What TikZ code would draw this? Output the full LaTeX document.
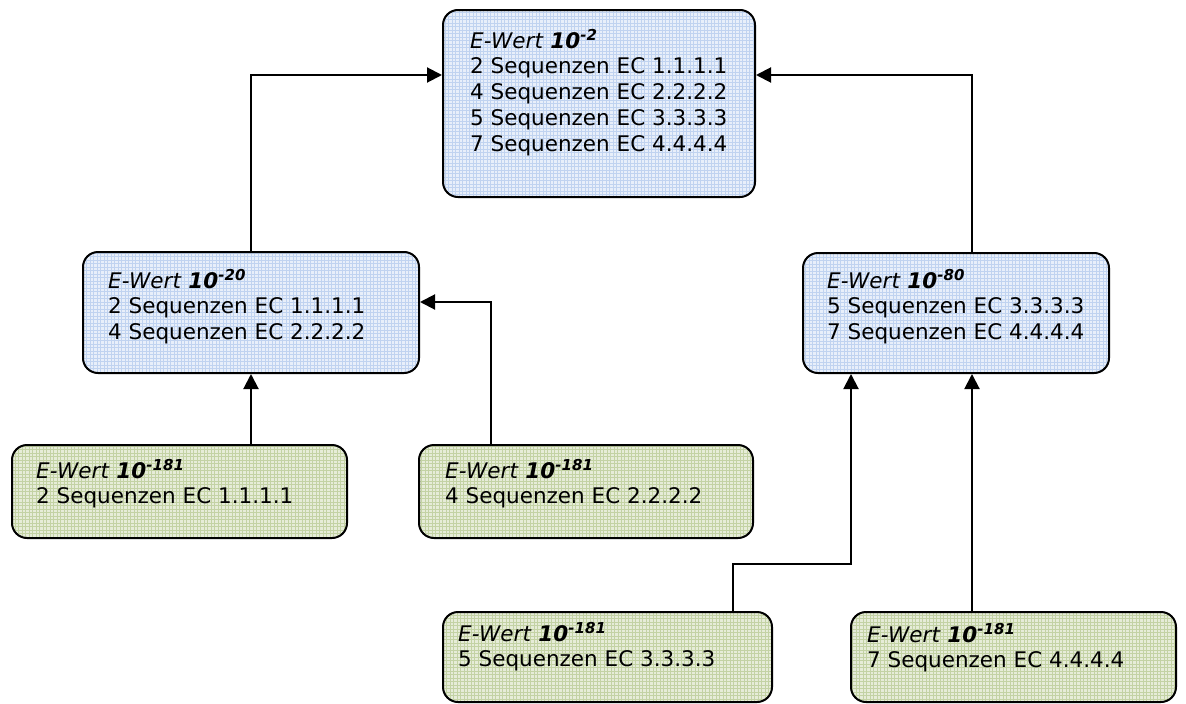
\documentclass[tikz,border=0pt]{standalone}
\usepackage{fontspec}
\setmainfont{DejaVu Sans}
\usetikzlibrary{arrows.meta}
\definecolor{bluebase}{HTML}{E8EFFA}
\definecolor{blueline}{HTML}{C0D3F0}
\definecolor{greenbase}{HTML}{E6ECD8}
\definecolor{greenline}{HTML}{C3D2A4}
\newcommand\ewert[1]{\textit{E-Wert} \textbf{\textit{10}}\textsuperscript{\textbf{\textit{-#1}}}}
\begin{document}
\begin{tikzpicture}[x=1pt,y=-1pt,
  boxbase/.style={draw=black, line width=2pt, rounded corners=15pt, inner sep=0pt},
  bluebox/.style={boxbase, fill=bluebase,
    path picture={\draw[blueline, line width=0.8pt, step=3.5pt] (path picture bounding box.south west) grid (path picture bounding box.north east);}},
  greenbox/.style={boxbase, fill=greenbase,
    path picture={\draw[greenline, line width=0.8pt, step=3.5pt] (path picture bounding box.south west) grid (path picture bounding box.north east);}},
  txt/.style={anchor=base west, inner sep=0pt, font=\fontsize{21.5}{25.8}\selectfont},
  arr/.style={draw=black, line width=2pt, -{Triangle[length=15pt,width=15pt]}}
]
\useasboundingbox (0,0) rectangle (1186,704);
% boxes
\node[bluebox, minimum width=312pt, minimum height=187pt] (top) at (599,103.5) {};
\node[bluebox, minimum width=336pt, minimum height=121pt] (ml) at (251,312.5) {};
\node[bluebox, minimum width=306pt, minimum height=120pt] (mr) at (956,313) {};
\node[greenbox, minimum width=335pt, minimum height=93pt] (bl1) at (179.5,491.5) {};
\node[greenbox, minimum width=334pt, minimum height=93pt] (bl2) at (586,491.5) {};
\node[greenbox, minimum width=329pt, minimum height=90pt] (b3) at (607.5,657) {};
\node[greenbox, minimum width=325pt, minimum height=90pt] (b4) at (1013.5,657) {};
% texts
\node[txt] (t1) at (470,48) {\parbox[t]{300pt}{\ewert{2}\\2 Sequenzen EC 1.1.1.1\\4 Sequenzen EC 2.2.2.2\\5 Sequenzen EC 3.3.3.3\\7 Sequenzen EC 4.4.4.4}};
\node[txt] (t2) at (108,288) {\parbox[t]{300pt}{\ewert{20}\\2 Sequenzen EC 1.1.1.1\\4 Sequenzen EC 2.2.2.2}};
\node[txt] (t3) at (827,288) {\parbox[t]{300pt}{\ewert{80}\\5 Sequenzen EC 3.3.3.3\\7 Sequenzen EC 4.4.4.4}};
\node[txt] (t4) at (36,478) {\parbox[t]{300pt}{\ewert{181}\\2 Sequenzen EC 1.1.1.1}};
\node[txt] (t5) at (445,478) {\parbox[t]{300pt}{\ewert{181}\\4 Sequenzen EC 2.2.2.2}};
\node[txt] (t6) at (458,641) {\parbox[t]{300pt}{\ewert{181}\\5 Sequenzen EC 3.3.3.3}};
\node[txt] (t7) at (867,642) {\parbox[t]{300pt}{\ewert{181}\\7 Sequenzen EC 4.4.4.4}};
% connectors
\draw[arr] (ml.north) |- ([yshift=28.5pt]top.west);
\draw[arr] ([xshift=16pt]mr.north) |- ([yshift=28.5pt]top.east);
\draw[arr] (ml.south |- bl1.north) -- (ml.south);
\draw[arr] ([xshift=-95pt]bl2.north) |- ([yshift=10.5pt]ml.east);
\draw[arr] ([xshift=125.5pt]b3.north) -- ++(0,47pt) -| ([xshift=-105pt]mr.south);
\draw[arr] ([xshift=-41.5pt]b4.north) -- ([xshift=16pt]mr.south);
\end{tikzpicture}
\end{document}
